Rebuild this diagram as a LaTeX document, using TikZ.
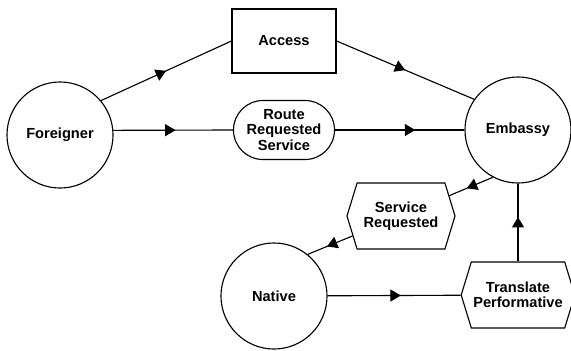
\documentclass[tikz,border=0pt]{standalone}
\usepackage{fontspec}
\setmainfont{Liberation Sans}
\usetikzlibrary{shapes.misc,shapes.symbols,decorations.markings,arrows.meta}

\begin{document}
\begin{tikzpicture}
[
 x=0.025cm, y=-0.025cm,
 line width=0.8pt,
 every node/.style ={font=\fontsize{10.4}{10.7}\selectfont\bfseries, align=center, inner sep=0.5mm},
 AGENT/.style={circle, draw=black, minimum size=2.65cm},
 ACT/.style={rectangle, draw=black, minimum width=2.6cm, minimum height=1.6cm},
 ROUTE/.style={rounded rectangle, draw=black, minimum width=2.625cm, minimum height=1.475cm},
 SPEECH/.style={signal, signal to=west and east, signal pointer angle=146, draw=black, minimum width=2.7cm, minimum height=1.65cm},
 FLOW/.style={postaction={decorate}, decoration={markings,
   mark=at position #1 with {\arrow{Triangle[length=2.6mm,width=3mm]}}}},
 FLOW/.default=0.5,
 ]
%
\useasboundingbox (0,0) rectangle (571,350);
%
\node [AGENT]   (FOR)  at ( 60,135)  {Foreigner};
\node [AGENT]   (EMB)  at (518,130)  {Embassy};
\node [AGENT]   (NAT)  at (274,296)  {Native};
%
\node [ACT]     (ACC)  at (284, 41)  {Access};
\node [ROUTE]   (RRS)  at (284,130)  {Route\\Requested\\Service};
\node [SPEECH]  (SRQ)  at (401,216)  {Service\\Requested};
\node [SPEECH]  (TRP)  at (518,295)  {Translate\\Performative};
%
\draw [FLOW=0.5]   (FOR.40)   -- (ACC.west) ;
\draw [FLOW=0.5]   (ACC.east) -- (EMB.145) ;
\draw [FLOW=0.52]  (FOR.5)    -- (RRS.west) ;
\draw [FLOW=0.62]  (RRS.east) -- (EMB.west) ;
\draw [FLOW=0.6]   (EMB.242)  -- (SRQ) ;
\draw [FLOW=0.57]  (SRQ)      -- (NAT.51) ;
\draw [FLOW=0.55]  (NAT)      -- (TRP) ;
\draw [FLOW=0.57]  (TRP.north) -- (EMB.south) ;
%
\end{tikzpicture}
\end{document}
